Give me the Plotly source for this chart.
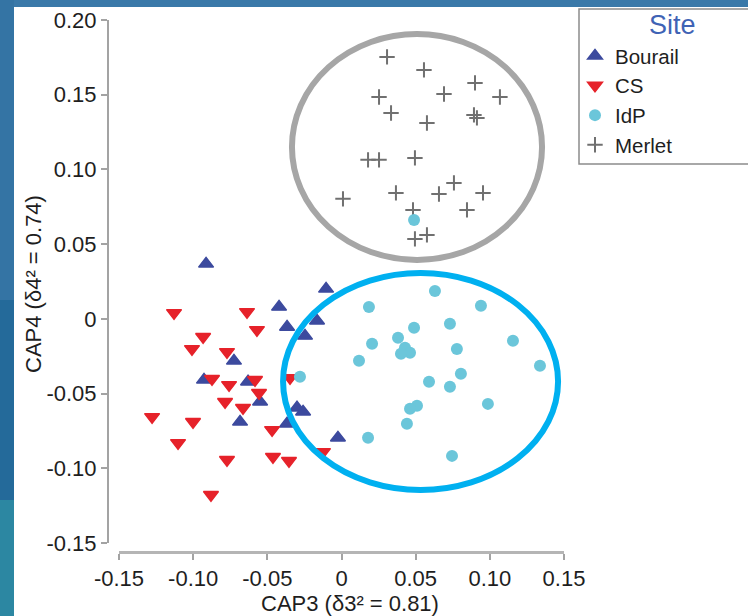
import plotly.graph_objects as go

# ---------------- data ----------------
sites = ["Bourail", "CS", "IdP", "Merlet"]

bourail_x = [-0.0913, -0.0104, -0.0421, -0.0165, -0.0367, -0.0246, -0.0725, -0.0927,
             -0.0630, -0.0549, -0.0300, -0.0259, -0.0684, -0.0367, -0.0024]
bourail_y = [0.0368, 0.0201, 0.0080, -0.0013, -0.0054, -0.0114, -0.0281, -0.0408,
             -0.0421, -0.0555, -0.0595, -0.0622, -0.0689, -0.0702, -0.0796]

cs_x = [-0.1129, -0.0637, -0.0570, -0.0933, -0.1008, -0.0772, -0.0873, -0.0758,
        -0.0583, -0.0556, -0.0347, -0.0785, -0.0664, -0.1277, -0.1001, -0.1102,
        -0.0468, -0.0772, -0.0462, -0.0354, -0.0125, -0.0880]
cs_y = [0.0040, 0.0047, -0.0074, -0.0120, -0.0201, -0.0221, -0.0401, -0.0442,
        -0.0408, -0.0495, -0.0395, -0.0555, -0.0595, -0.0656, -0.0689, -0.0830,
        -0.0743, -0.0943, -0.0923, -0.0950, -0.0890, -0.1177]

idp_x = [0.0630, 0.0185, 0.0940, 0.0489, 0.0731, 0.0381, 0.0206, 0.0428, 0.0462,
         0.0401, 0.1156, 0.0778, 0.0118, 0.1338, 0.0805, 0.0590, 0.0731, 0.0509,
         0.0462, 0.0987, 0.0441, 0.0179, 0.0745, -0.0280, 0.0489]
idp_y = [0.0187, 0.0080, 0.0087, -0.0060, -0.0033, -0.0127, -0.0167, -0.0194, -0.0227,
         -0.0234, -0.0147, -0.0201, -0.0281, -0.0314, -0.0368, -0.0421, -0.0455, -0.0582,
         -0.0602, -0.0569, -0.0702, -0.0796, -0.0917, -0.0388, 0.0662]

merlet_x = [0.0307, 0.0556, 0.0900, 0.0253, 0.0691, 0.1068, 0.0334, 0.0576, 0.0893,
            0.0913, 0.0179, 0.0253, 0.0495, 0.0758, 0.0954, 0.0367, 0.0657, 0.0010,
            0.0846, 0.0482, 0.0576, 0.0495]
merlet_y = [0.1753, 0.1666, 0.1579, 0.1485, 0.1505, 0.1485, 0.1378, 0.1311, 0.1365,
            0.1345, 0.1064, 0.1064, 0.1077, 0.0910, 0.0843, 0.0843, 0.0836, 0.0803,
            0.0729, 0.0729, 0.0562, 0.0535]

x_tickvals = [-0.15, -0.10, -0.05, 0, 0.05, 0.10, 0.15]
x_ticktext = ["-0.15", "-0.10", "-0.05", "0", "0.05", "0.10", "0.15"]
y_tickvals = [-0.15, -0.10, -0.05, 0, 0.05, 0.10, 0.15, 0.20]
y_ticktext = ["-0.15", "-0.10", "-0.05", "0", "0.05", "0.10", "0.15", "0.20"]

x_title = "CAP3 (δ3² = 0.81)"
y_title = "CAP4 (δ4² = 0.74)"
legend_title = "Site"

# ---------------- layout geometry (pixels) ----------------
W, H = 748, 616
ML, MR, MT, MB = 100, 148, 15, 56
PW = W - ML - MR
PH = H - MT - MB


def px(xp):
    return (xp - ML) / PW


def py(yp):
    return (H - MB - yp) / PH


FONT = "Liberation Sans, Arial, sans-serif"
AXIS_COL = "#a3a3a3"
TXT = "#1e1e1e"

fig = go.Figure()

fig.add_trace(go.Scatter(
    x=bourail_x, y=bourail_y, mode="markers", name=sites[0], legendrank=1,
    marker=dict(symbol="triangle-up", size=13, color="#3c4a9e",
                line=dict(width=1.4, color="#3c4a9e"))))
fig.add_trace(go.Scatter(
    x=cs_x, y=cs_y, mode="markers", name=sites[1], legendrank=2,
    marker=dict(symbol="triangle-down", size=13, color="#e6222a",
                line=dict(width=1.4, color="#e6222a"))))
fig.add_trace(go.Scatter(
    x=merlet_x, y=merlet_y, mode="markers", name=sites[3], legendrank=4,
    marker=dict(symbol="cross-thin", size=11, color="#707070",
                line=dict(width=2, color="#707070"))))
fig.add_trace(go.Scatter(
    x=idp_x, y=idp_y, mode="markers", name=sites[2], legendrank=3,
    marker=dict(symbol="circle", size=12, color="#6bc6da", line=dict(width=0))))

# background panels
shapes = [
    dict(type="rect", xref="paper", yref="paper", x0=px(0), x1=px(14), y0=py(300), y1=py(0),
         fillcolor="#3474a4", line=dict(width=0), layer="below"),
    dict(type="rect", xref="paper", yref="paper", x0=px(0), x1=px(14), y0=py(500), y1=py(300),
         fillcolor="#246a9a", line=dict(width=0), layer="below"),
    dict(type="rect", xref="paper", yref="paper", x0=px(0), x1=px(14), y0=py(616), y1=py(500),
         fillcolor="#2c87a2", line=dict(width=0), layer="below"),
    dict(type="rect", xref="paper", yref="paper", x0=px(14), x1=px(760), y0=py(630), y1=py(7),
         fillcolor="white", line=dict(width=0), layer="below"),
    # legend frame
    dict(type="rect", xref="paper", yref="paper", x0=px(579), x1=px(770), y0=py(164), y1=py(9),
         fillcolor="rgba(0,0,0,0)", line=dict(width=1.5, color="#8c8c8c"), layer="below"),
    # group ellipses
    dict(type="circle", xref="x", yref="y", x0=-0.0334, x1=0.1352, y0=0.0394, y1=0.1906,
         line=dict(width=6, color="#a6a6a6")),
    dict(type="circle", xref="x", yref="y", x0=-0.0394, x1=0.1460, y0=-0.1145, y1=0.0307,
         line=dict(width=6, color="#00b0f0")),
]

annotations = [
    dict(text=x_title, xref="paper", yref="paper", x=px(350), y=py(603),
         xanchor="center", yanchor="middle", showarrow=False,
         font=dict(family=FONT, size=22, color=TXT)),
    dict(text=y_title, xref="paper", yref="paper", x=px(33), y=py(284),
         xanchor="center", yanchor="middle", showarrow=False, textangle=-90,
         font=dict(family=FONT, size=22, color=TXT)),
    dict(text=legend_title, xref="paper", yref="paper", x=px(672), y=py(25),
         xanchor="center", yanchor="middle", showarrow=False,
         font=dict(family=FONT, size=27, color="#3f63b5")),
]

fig.update_layout(
    width=W, height=H,
    margin=dict(l=ML, r=MR, t=MT, b=MB, autoexpand=False),
    paper_bgcolor="#3a79a9",
    plot_bgcolor="rgba(0,0,0,0)",
    font=dict(family=FONT, size=22, color=TXT),
    showlegend=True,
    legend=dict(x=px(575), y=py(36), xanchor="left", yanchor="top",
                bgcolor="rgba(0,0,0,0)", borderwidth=0, tracegroupgap=0,
                font=dict(family=FONT, size=20.5, color=TXT)),
    xaxis=dict(domain=[px(119), px(564)], range=[-0.15, 0.15], anchor="free", position=py(552),
               showgrid=False, zeroline=False, showline=True, linecolor="#b5b5b5", linewidth=2.5,
               ticks="outside", ticklen=6, tickwidth=1.5, tickcolor=AXIS_COL,
               tickvals=x_tickvals, ticktext=x_ticktext,
               tickfont=dict(family=FONT, size=22, color=TXT)),
    yaxis=dict(domain=[py(543), py(20)], range=[-0.15, 0.20], anchor="free", position=px(108),
               showgrid=False, zeroline=False, showline=True, linecolor=AXIS_COL, linewidth=2,
               ticks="outside", ticklen=6, tickwidth=1.5, tickcolor=AXIS_COL,
               tickvals=y_tickvals, ticktext=y_ticktext,
               tickfont=dict(family=FONT, size=22, color=TXT)),
    shapes=shapes,
    annotations=annotations,
)

fig.write_html("out.html",
               config={"displayModeBar": False},
               post_script="document.body.style.margin='0'; document.body.style.overflow='hidden';")
